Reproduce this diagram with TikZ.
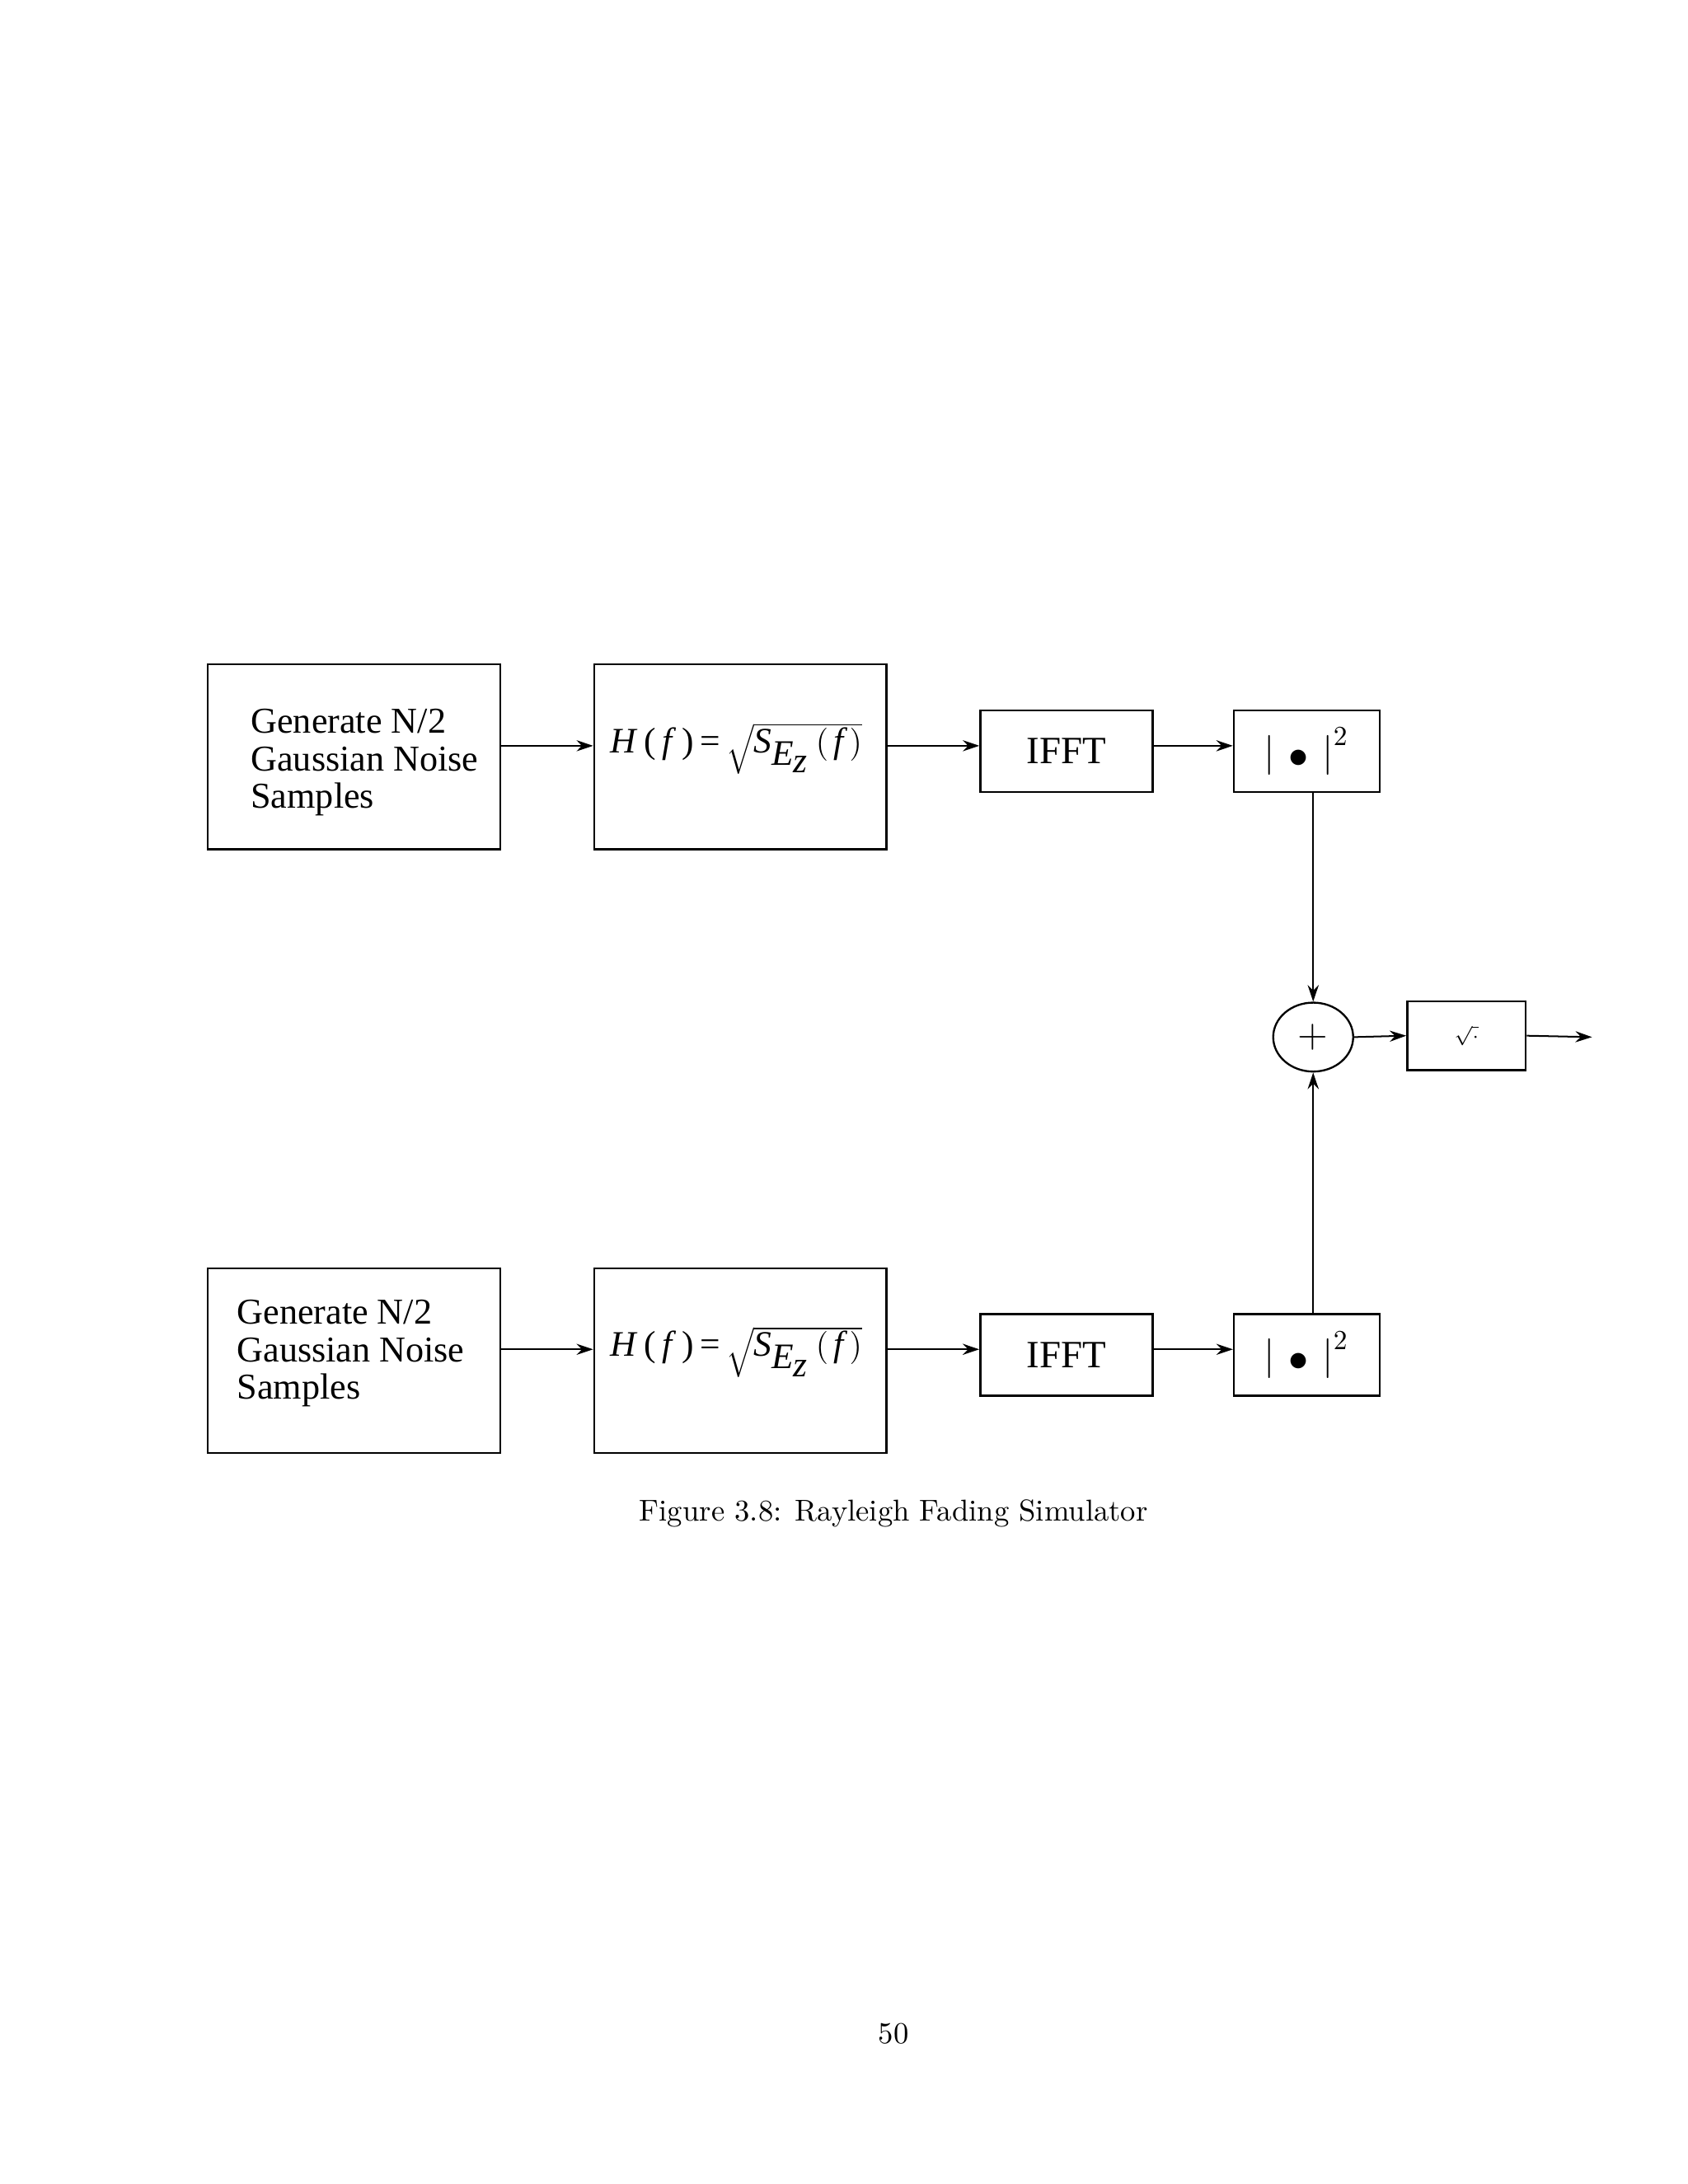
\documentclass[tikz,border=0pt]{standalone}
\usepackage{fontspec}
\newfontfamily\tms{Liberation Serif}
\usetikzlibrary{arrows.meta,shapes.geometric}
\begin{document}
\begin{tikzpicture}[x=0.5055pt,y=-0.5055pt,
  blk/.style={draw,line width=0.7pt,inner sep=0pt,font=\tms},
  arr/.style={-{Stealth[length=6pt,width=4pt]},line width=0.6pt}]
\useasboundingbox (0,0) rectangle (1210.7,1566.8);
\foreach \r/\y/\tx/\ty in {a/543/173/547,b/976/163/971}{
  \node[blk,minimum width=106pt,minimum height=67pt] (g\r) at (254,\y) {};
  \node[font=\tms\fontsize{13.2}{13.6}\selectfont,align=left,anchor=west] at (\tx,\ty) {Generate N/2\\Gaussian Noise\\Samples};
  \node[blk,minimum width=106pt,minimum height=67pt] (h\r) at (531,\y) {};
  \node[font=\tms\fontsize{13}{14}\selectfont,anchor=west] at (431,\y-6) {\textit{H}\,(\,\textit{f}\,)\,=\,$\sqrt{\textit{S}_{\textit{E}_{\textit{z}}}\,(\,\textit{f}\,)}$};
  \node[blk,minimum width=62.5pt,minimum height=29.5pt,font=\tms\fontsize{14}{14}\selectfont] (i\r) at (765,\y-4) {IFFT};
  \node[blk,minimum width=53pt,minimum height=29.5pt] (m\r) at (937.5,\y-4) {};
  \node[font=\tms\fontsize{14}{14}\selectfont] at (937,\y-4) {$\big|$\hspace{5pt}\raisebox{-1pt}{$\bullet$}\hspace{5pt}$\big|^2$};
  \draw[arr] (g\r.east|-0,\y-8) -- (h\r.west|-0,\y-8);
  \draw[arr] (h\r.east|-0,\y-8) -- (i\r.west|-0,\y-8);
  \draw[arr] (i\r.east|-0,\y-8) -- (m\r.west|-0,\y-8);
}
\node[draw,ellipse,line width=0.7pt,minimum width=29pt,minimum height=25pt,inner sep=0pt,font=\Large] (s) at (942,744) {$+$};
\node[blk,minimum width=43pt,minimum height=25pt] (q) at (1052,743) {$\scriptstyle\sqrt{\cdot}$};
\coordinate (o) at (1142,744);
\draw[arr] (ma.south-|s) -- (s.north);
\draw[arr] (mb.north-|s) -- (s.south);
\draw[arr] (s.east) -- (q.west);
\draw[arr] (q.east) -- (o);
\node[font=\fontsize{10.95}{13}\selectfont] (cap) at (641,1086) {Figure 3.8: Rayleigh Fading Simulator};
\node[font=\fontsize{10.95}{13}\selectfont] (pg) at (641,1459) {50};
\end{tikzpicture}
\end{document}
